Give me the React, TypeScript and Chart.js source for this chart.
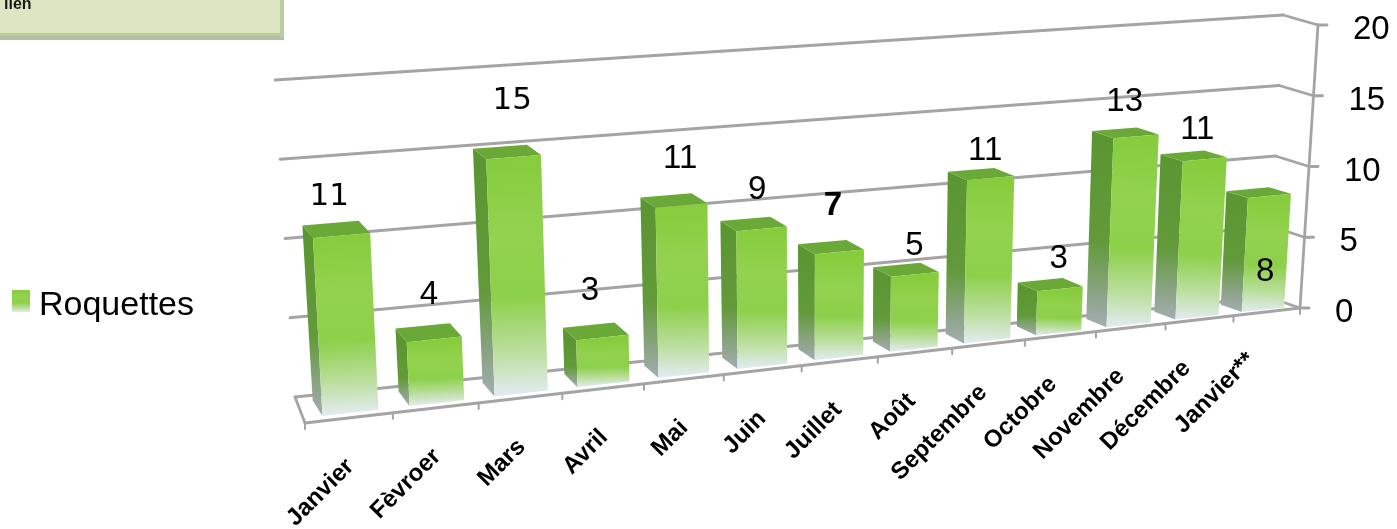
import React, { useEffect, useRef } from "react";
import { Chart, registerables } from "chart.js";

Chart.register(...registerables);

const categories = ["Janvier", "Fèvroer", "Mars", "Avril", "Mai", "Juin", "Juillet", "Août", "Septembre", "Octobre", "Novembre", "Décembre", "Janvier**"];
const roquettes = [11, 4, 15, 3, 11, 9, 7, 5, 11, 3, 13, 11, 8];
const seriesName = "Roquettes";
const noteText = "lien";

// placement of the value labels relative to the top of each bar
const labelShiftX = [-9, -2, 2, -9, 2, -1, -3, 3, -2, 2, -8, -4, -2];
const labelShiftY = [-39, -44, -56, -47, -47, -39, -46, -29, -27, -30, -35, -29, 76];

type Pt = { x: number; y: number };
const corners = {
  // front/back, left/right, floor/top
  flb: { x: 305, y: 423 }, flt: { x: 288, y: 97 },
  frb: { x: 1300, y: 308 }, frt: { x: 1318, y: 25 },
  blb: { x: 295, y: 397 }, blt: { x: 275, y: 80 },
  brb: { x: 1268, y: 297 }, brt: { x: 1283, y: 15 },
};
const lerp = (a: Pt, b: Pt, k: number): Pt => ({ x: a.x + (b.x - a.x) * k, y: a.y + (b.y - a.y) * k });
const persp = (t: number) => t / (t + 0.86 * (1 - t));
function project(t: number, h: number, d: number): Pt {
  const s = persp(t);
  const c = corners;
  const fb = lerp(c.flb, c.frb, s), ft = lerp(c.flt, c.frt, s);
  const bb = lerp(c.blb, c.brb, s), bt = lerp(c.blt, c.brt, s);
  return lerp(lerp(fb, ft, h), lerp(bb, bt, h), d);
}
const D0 = 0.2, D1 = 0.8;
// front faces sit a little further right, which widens the visible side faces
const frontPush = (t: number) => (t < 0.9 ? 3.5 : 3.5 * (1 - (t - 0.9) / 0.1) + 1);
function barFront(t: number, tc: number, h: number): Pt {
  const p = project(t, h, D0);
  return { x: p.x + frontPush(tc), y: p.y };
}
const GRID = "#a4a4a4";
const SANS = "'Liberation Sans', Arial, sans-serif";

function poly(ctx: CanvasRenderingContext2D, pts: Pt[], fill: any) {
  ctx.beginPath();
  pts.forEach((p, i) => (i ? ctx.lineTo(p.x, p.y) : ctx.moveTo(p.x, p.y)));
  ctx.closePath();
  ctx.fillStyle = fill;
  ctx.fill();
}
function seg(ctx: CanvasRenderingContext2D, a: Pt, b: Pt, w = 2.8, col = GRID) {
  ctx.beginPath();
  ctx.moveTo(a.x, a.y);
  ctx.lineTo(b.x, b.y);
  ctx.lineWidth = w;
  ctx.strokeStyle = col;
  ctx.stroke();
}
function vGrad(ctx: CanvasRenderingContext2D, a: Pt, b: Pt, stops: [number, string][]) {
  const g = ctx.createLinearGradient(a.x, a.y, b.x, b.y);
  stops.forEach(([o, c]) => g.addColorStop(o, c));
  return g;
}
const frontStops: [number, string][] = [[0, "#86cc3c"], [0.3, "#93d24f"], [0.58, "#8dd04a"], [0.82, "#bcdfa0"], [1, "#e4ecf2"]];
const sideStops: [number, string][] = [[0, "#5b9632"], [0.55, "#629a3a"], [0.85, "#8fa58c"], [1, "#a3adb2"]];

const scene3d = {
  id: "scene3d",
  beforeDatasetsDraw(chart: any) {
    const { ctx, chartArea: ca, scales } = chart;
    const y = scales.y;
    const hOf = (v: number) => (ca.bottom - y.getPixelForValue(v)) / ca.height;
    ctx.save();
    ctx.lineCap = "round";
    // note box top-left
    ctx.fillStyle = "#b4c0a6";
    ctx.fillRect(0, 36, 284, 4);
    ctx.fillStyle = "#bacd9b";
    ctx.fillRect(280, 0, 4, 37);
    ctx.fillRect(0, 33, 284, 3);
    ctx.fillStyle = "#dde6c3";
    ctx.fillRect(0, 0, 280, 33);
    ctx.fillStyle = "#1a1a1a";
    ctx.font = `bold 16px ${SANS}`;
    ctx.textAlign = "left";
    ctx.textBaseline = "alphabetic";
    ctx.fillText(noteText, 4, 9);

    // walls
    y.ticks.forEach((tk: any) => {
      const h = hOf(tk.value);
      seg(ctx, project(0, h, 1), project(1, h, 1));
      seg(ctx, project(1, h, 1), project(1, h, 0));
      const a = project(1, h, 0);
      seg(ctx, a, { x: a.x + 9, y: a.y });
      ctx.fillStyle = "#000";
      ctx.font = `33px ${SANS}`;
      ctx.textAlign = "left";
      ctx.textBaseline = "middle";
      ctx.fillText(String(tk.value), a.x + 35, a.y + 5);
    });
    seg(ctx, project(1, 0, 0), project(1, 1, 0));
    seg(ctx, project(0, 0, 1), project(0, 0, 0));
    seg(ctx, project(0, 0, 0), project(1, 0, 0));
    const n = chart.data.labels.length;
    for (let i = 0; i <= n; i++) {
      const p = project(i / n, 0, 0);
      seg(ctx, p, { x: p.x, y: p.y + 6 }, 2);
    }
    // category labels
    chart.data.labels.forEach((lab: string, i: number) => {
      const t = (i + 0.5) / n;
      const p = project(t, 0, 0);
      ctx.save();
      ctx.translate(p.x + 1 - 18 * t + 6 * Math.sin(Math.PI * t), p.y + 45);
      ctx.rotate(-Math.PI / 4);
      ctx.fillStyle = "#000";
      ctx.font = `bold 24px ${SANS}`;
      ctx.textAlign = "right";
      ctx.textBaseline = "middle";
      ctx.fillText(lab, 0, 0);
      ctx.restore();
    });
    // legend
    const ds = chart.data.datasets[0];
    poly(ctx, [{ x: 12, y: 290 }, { x: 30, y: 290 }, { x: 30, y: 312 }, { x: 12, y: 312 }],
      vGrad(ctx, { x: 12, y: 290 }, { x: 12, y: 312 }, frontStops));
    ctx.fillStyle = "#000";
    ctx.font = `34px ${SANS}`;
    ctx.textAlign = "left";
    ctx.textBaseline = "middle";
    ctx.fillText(ds.label, 39, 306);
    ctx.restore();
  },
  beforeDatasetDraw(chart: any, args: any) {
    const { ctx, chartArea: ca } = chart;
    const bars = args.meta.data.map((el: any) => {
      const p = el.getProps(["x", "y", "base", "width"], true);
      const t0 = (p.x - p.width / 2 - ca.left) / ca.width;
      const t1 = (p.x + p.width / 2 - ca.left) / ca.width;
      const h = (p.base - p.y) / ca.height;
      return { t0, t1, h, tc: (t0 + t1) / 2 };
    });
    ctx.save();
    bars.forEach((b: any) => {
      poly(ctx, [project(b.t0, b.h, D1), barFront(b.t0, b.tc, b.h), barFront(b.t0, b.tc, 0), project(b.t0, 0, D1)],
        vGrad(ctx, barFront(b.t0, b.tc, b.h), barFront(b.t0, b.tc, 0), sideStops));
    });
    bars.forEach((b: any) => {
      poly(ctx, [project(b.t0, b.h, D1), project(b.t1, b.h, D1), barFront(b.t1, b.tc, b.h), barFront(b.t0, b.tc, b.h)], "#6aa838");
    });
    bars.forEach((b: any) => {
      poly(ctx, [barFront(b.t0, b.tc, b.h), barFront(b.t1, b.tc, b.h), barFront(b.t1, b.tc, 0), barFront(b.t0, b.tc, 0)],
        vGrad(ctx, barFront(b.t0, b.tc, b.h), barFront(b.t0, b.tc, 0), frontStops));
    });
    // value labels
    bars.forEach((b: any, i: number) => {
      const p = project(b.tc, b.h, D0);
      const v = chart.data.datasets[0].data[i];
      ctx.fillStyle = "#000";
      ctx.font = i === 6 ? `bold 33px ${SANS}` : i === 0 || i === 2 ? "31px 'DejaVu Sans'" : `33px ${SANS}`;
      ctx.textAlign = "center";
      ctx.textBaseline = "middle";
      ctx.fillText(String(v), p.x + labelShiftX[i], p.y + labelShiftY[i]);
    });
    ctx.restore();
    return false;
  },
};

export default function App() {
  const ref = useRef<HTMLCanvasElement>(null);
  useEffect(() => {
    document.body.style.margin = "0";
    const chart = new Chart(ref.current as HTMLCanvasElement, {
      type: "bar",
      data: {
        labels: categories,
        datasets: [{ label: seriesName, data: roquettes, backgroundColor: "#8dd04a", barPercentage: 0.64, categoryPercentage: 1 }],
      },
      options: {
        animation: false,
        responsive: false,
        devicePixelRatio: 1,
        layout: { padding: { left: 300, right: 97, top: 25, bottom: 221 } },
        plugins: { legend: { display: false }, tooltip: { enabled: false } },
        scales: {
          x: { display: false },
          y: { display: false, min: 0, max: 20, ticks: { stepSize: 5 } },
        },
      },
      plugins: [scene3d],
    } as any);
    return () => chart.destroy();
  }, []);
  return <canvas ref={ref} width={1397} height={529} style={{ display: "block" }} />;
}
